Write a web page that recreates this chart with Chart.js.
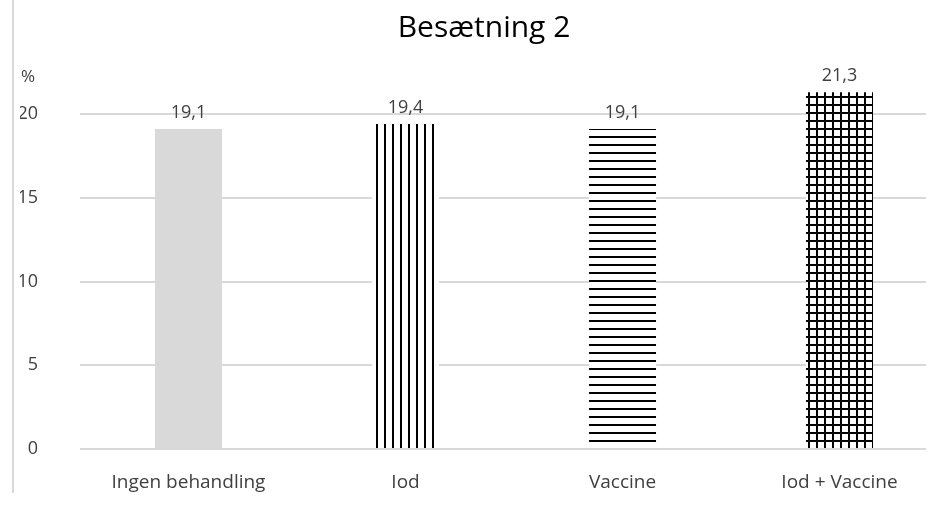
<!DOCTYPE html>
<html>
<head>
<meta charset="utf-8">
<script src="https://cdn.jsdelivr.net/npm/chart.js@4"></script>
<style>
  html, body { margin: 0; padding: 0; background: #fff; overflow: hidden; }
  #wrap { width: 940px; height: 507px; overflow: hidden; }
  #myChart { display: block; }
</style>
</head>
<body>
<!-- the plot area of the original runs a bit past the right edge, so the canvas is wider than the window -->
<div id="wrap"><canvas id="myChart" width="948" height="507"></canvas></div>
<script>
const categories = ["Ingen behandling", "Iod", "Vaccine", "Iod + Vaccine"];
const values = [19.1, 19.4, 19.1, 21.3];
const tickValues = [0, 5, 10, 15, 20];

const FONT = "'Open Sans', 'Noto Sans', sans-serif";
const TEXT = "#404040";

function makePattern(kind) {
  const c = document.createElement("canvas");
  c.width = 8;
  c.height = 8;
  const g = c.getContext("2d");
  g.fillStyle = "#fff";
  g.fillRect(0, 0, 8, 8);
  g.fillStyle = "#000";
  if (kind === "v" || kind === "grid") g.fillRect(0, 0, 2, 8);
  if (kind === "h" || kind === "grid") g.fillRect(0, 0, 8, 2);
  return g.createPattern(c, "repeat");
}

const barColors = ["#d9d9d9", makePattern("v"), makePattern("h"), makePattern("grid")];

// stop the gridlines where they end in the original
const clipRight = {
  id: "clipRight",
  beforeDraw(chart) {
    const ctx = chart.ctx;
    ctx.save();
    ctx.beginPath();
    ctx.rect(0, 0, 926, chart.height);
    ctx.clip();
  },
  afterDraw(chart) {
    chart.ctx.restore();
  },
};

// value labels, the "%" unit and the thin frame line at the left
const extras = {
  id: "extras",
  afterDatasetsDraw(chart) {
    const ctx = chart.ctx;
    const meta = chart.getDatasetMeta(0);
    ctx.save();
    ctx.font = "18px " + FONT;
    ctx.fillStyle = TEXT;
    ctx.textAlign = "center";
    ctx.textBaseline = "bottom";
    meta.data.forEach((bar, i) => {
      ctx.fillText(values[i].toFixed(1).replace(".", ","), bar.x, bar.y - 7);
    });
    ctx.font = "17px " + FONT;
    ctx.textAlign = "left";
    ctx.textBaseline = "middle";
    ctx.fillText("%", 21, 77);
    ctx.fillStyle = "#d9d9d9";
    ctx.fillRect(12, 0, 2, 493);
    ctx.restore();
  },
};

const ctx = document.getElementById("myChart");

new Chart(ctx, {
  type: "bar",
  data: {
    labels: categories,
    datasets: [
      {
        data: values,
        backgroundColor: barColors,
        borderWidth: 0,
        categoryPercentage: 1,
        barPercentage: 0.309,
      },
    ],
  },
  options: {
    responsive: false,
    animation: false,
    layout: {
      padding: { left: 20, right: 0, top: 0, bottom: 0 },
    },
    scales: {
      x: {
        afterFit(scale) {
          scale.height = 58;
        },
        grid: { display: false, drawTicks: false },
        border: { display: false },
        ticks: {
          color: TEXT,
          font: { family: FONT, size: 19 },
          padding: 22,
        },
      },
      y: {
        min: 0,
        max: 22,
        afterBuildTicks(scale) {
          scale.ticks = tickValues.map((v) => ({ value: v }));
        },
        afterFit(scale) {
          scale.width = 60;
        },
        grid: { color: "#d9d9d9", lineWidth: 2, drawTicks: false },
        border: { display: false },
        ticks: {
          color: TEXT,
          font: { family: FONT, size: 18 },
          padding: 42,
        },
      },
    },
    plugins: {
      legend: { display: false },
      tooltip: { enabled: false },
      title: {
        display: true,
        text: "Besætning 2",
        color: "#000",
        font: { family: FONT, size: 30, weight: "normal" },
        padding: { top: 10, bottom: 34.5 },
      },
    },
  },
  plugins: [clipRight, extras],
});
</script>
</body>
</html>
